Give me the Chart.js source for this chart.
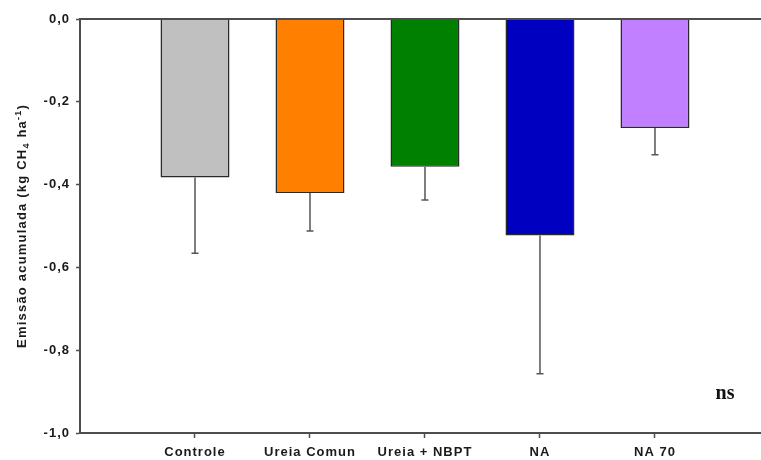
<!DOCTYPE html>
<html>
<head>
<meta charset="utf-8">
<style>
  body { margin: 0; background: #fff; }
</style>
</head>
<body>
<canvas id="chart" width="761" height="460"></canvas>
<script src="https://cdn.jsdelivr.net/npm/chart.js"></script>
<script>
// data
const categories = ['Controle', 'Ureia Comun', 'Ureia + NBPT', 'NA', 'NA 70'];
const emission = [-0.383, -0.420, -0.357, -0.523, -0.263];
const stdErr = [0.183, 0.092, 0.080, 0.334, 0.065];
const barColors = ['#c0c0c0', '#ff8000', '#008000', '#0000c0', '#c080ff'];
const yTicks = [0, -0.2, -0.4, -0.6, -0.8, -1.0];

const axisColor = '#4d4d4d';
const textColor = '#1a1a1a';

// small spacing to imitate the stretched lettering of the original
const spacing = {
  id: 'spacing',
  beforeUpdate(chart) { chart.ctx.letterSpacing = '1px'; },
  beforeDraw(chart) { chart.ctx.letterSpacing = '1px'; }
};

// zero line across the top of the plot
const zeroLine = {
  id: 'zeroLine',
  afterDatasetsDraw(chart) {
    const { ctx, chartArea, scales } = chart;
    const y = scales.y.getPixelForValue(0);
    ctx.save();
    ctx.strokeStyle = axisColor;
    ctx.lineWidth = 2;
    ctx.beginPath();
    ctx.moveTo(chartArea.left, y);
    ctx.lineTo(chartArea.right, y);
    ctx.stroke();
    ctx.restore();
  }
};

// error bars going down from each bar
const errorBars = {
  id: 'errorBars',
  afterDatasetsDraw(chart) {
    const { ctx, scales } = chart;
    const meta = chart.getDatasetMeta(0);
    ctx.save();
    ctx.strokeStyle = '#555';
    ctx.lineWidth = 1.5;
    meta.data.forEach((bar, i) => {
      const yEnd = scales.y.getPixelForValue(emission[i] - stdErr[i]);
      ctx.beginPath();
      ctx.moveTo(bar.x, bar.y);
      ctx.lineTo(bar.x, yEnd);
      ctx.moveTo(bar.x - 3.5, yEnd);
      ctx.lineTo(bar.x + 3.5, yEnd);
      ctx.stroke();
    });
    ctx.restore();
  }
};

// rotated y title with subscript / superscript, plus the "ns" note
const texts = {
  id: 'texts',
  afterDraw(chart) {
    const ctx = chart.ctx;
    const parts = [
      { t: 'Emissão acumulada (kg CH', size: 13, dy: 0 },
      { t: '4', size: 9, dy: 3 },
      { t: ' ha', size: 13, dy: 0 },
      { t: '-1', size: 9, dy: -5 },
      { t: ')', size: 13, dy: 0 }
    ];
    ctx.save();
    ctx.letterSpacing = '1.2px';
    ctx.fillStyle = textColor;
    ctx.textBaseline = 'alphabetic';
    ctx.textAlign = 'left';
    let total = 0;
    parts.forEach(p => {
      ctx.font = 'bold ' + p.size + 'px "Liberation Sans", Arial, sans-serif';
      p.w = ctx.measureText(p.t).width;
      total += p.w;
    });
    ctx.translate(26, 226);
    ctx.rotate(-Math.PI / 2);
    let x = -total / 2;
    parts.forEach(p => {
      ctx.font = 'bold ' + p.size + 'px "Liberation Sans", Arial, sans-serif';
      ctx.fillText(p.t, x, p.dy);
      x += p.w;
    });
    ctx.restore();

    ctx.save();
    ctx.letterSpacing = '0px';
    ctx.fillStyle = '#111';
    ctx.font = 'bold 20px "Liberation Serif", "Times New Roman", serif';
    ctx.textAlign = 'center';
    ctx.textBaseline = 'alphabetic';
    ctx.fillText('ns', 725, 399);
    ctx.restore();
  }
};

const points = categories.map((c, i) => ({ x: i + 1, y: emission[i] }));

new Chart(document.getElementById('chart'), {
  type: 'bar',
  data: {
    datasets: [{
      data: points,
      backgroundColor: barColors,
      borderColor: '#2a2a2a',
      borderWidth: 1.5,
      borderSkipped: 'start',
      barPercentage: 0.6,
      categoryPercentage: 1.0
    }]
  },
  options: {
    responsive: false,
    animation: false,
    layout: { padding: { top: 19, left: 0, right: 0, bottom: 0 } },
    plugins: {
      legend: { display: false },
      tooltip: { enabled: false }
    },
    scales: {
      x: {
        type: 'linear',
        min: 0,
        max: 5.922,
        offset: false,
        afterFit(scale) { scale.height = 27; },
        afterBuildTicks(scale) {
          scale.ticks = categories.map((c, i) => ({ value: i + 1 }));
        },
        border: { display: true, color: axisColor, width: 2 },
        grid: { offset: false, drawOnChartArea: false, tickLength: 5, tickColor: axisColor, tickWidth: 1.5 },
        ticks: {
          autoSkip: false,
          maxRotation: 0,
          padding: 7,
          color: textColor,
          font: { family: '"Liberation Sans", Arial, sans-serif', size: 13, weight: 'bold' },
          callback: (v) => categories[v - 1] || ''
        }
      },
      y: {
        min: -1,
        max: 0,
        afterFit(scale) { scale.width = 80; },
        afterBuildTicks(scale) {
          scale.ticks = yTicks.map(v => ({ value: v }));
        },
        border: { display: true, color: axisColor, width: 2 },
        grid: { drawOnChartArea: false, tickLength: 4, tickColor: axisColor, tickWidth: 1.5 },
        ticks: {
          padding: 6,
          color: textColor,
          font: { family: '"Liberation Sans", Arial, sans-serif', size: 13, weight: 'bold' },
          callback: (v) => v.toFixed(1).replace('.', ',')
        }
      }
    }
  },
  plugins: [spacing, zeroLine, errorBars, texts]
});
</script>
</body>
</html>
